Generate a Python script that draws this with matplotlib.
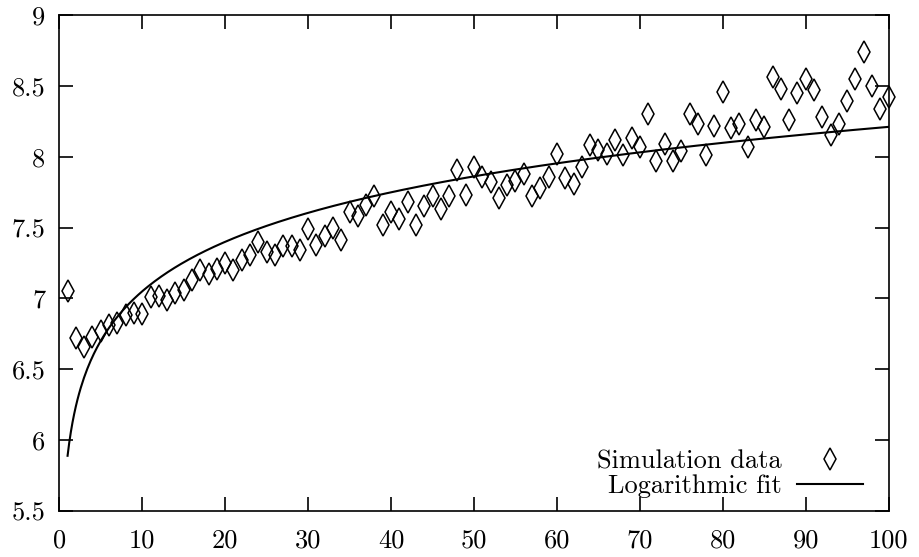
import numpy as np
import matplotlib
matplotlib.use("Agg")
import matplotlib.pyplot as plt

plt.rcParams['font.family'] = 'cmr10'
plt.rcParams['mathtext.fontset'] = 'cm'
plt.rcParams['axes.unicode_minus'] = False

# simulation data
x_data = list(range(1, 101))
y_data = [7.05, 6.72, 6.66, 6.73, 6.77, 6.81, 6.83, 6.88, 6.90, 6.89,
          7.01, 7.02, 6.99, 7.04, 7.06, 7.13, 7.20, 7.17, 7.21, 7.25,
          7.20, 7.27, 7.31, 7.40, 7.33, 7.31, 7.37, 7.37, 7.34, 7.49,
          7.38, 7.44, 7.50, 7.41, 7.61, 7.58, 7.66, 7.72, 7.52, 7.61,
          7.56, 7.68, 7.52, 7.65, 7.72, 7.63, 7.72, 7.91, 7.73, 7.93,
          7.86, 7.82, 7.71, 7.80, 7.83, 7.88, 7.72, 7.78, 7.86, 8.02,
          7.85, 7.81, 7.93, 8.08, 8.05, 8.02, 8.12, 8.01, 8.13, 8.07,
          8.30, 7.97, 8.09, 7.97, 8.04, 8.30, 8.23, 8.01, 8.22, 8.46,
          8.20, 8.23, 8.07, 8.26, 8.21, 8.56, 8.48, 8.26, 8.45, 8.55,
          8.47, 8.28, 8.15, 8.23, 8.39, 8.55, 8.74, 8.50, 8.34, 8.42]

# logarithmic fit  f(x) = a + b*ln(x)
fit_a = 5.89
fit_b = 0.504

x_ticks = [0, 10, 20, 30, 40, 50, 60, 70, 80, 90, 100]
y_ticks = [5.5, 6, 6.5, 7, 7.5, 8, 8.5, 9]
y_tick_labels = ['5.5', '6', '6.5', '7', '7.5', '8', '8.5', '9']

fig = plt.figure(figsize=(9.19, 5.57), dpi=100)
ax = fig.add_axes([0.0645, 0.0825, 0.9025, 0.8905])

ax.plot(x_data, y_data, linestyle='none', marker='d', markersize=11,
        markerfacecolor='none', markeredgecolor='black', markeredgewidth=1.1,
        label='Simulation data', clip_on=False)

xs = np.linspace(1, 100, 500)
ax.plot(xs, fit_a + fit_b * np.log(xs), color='black', linewidth=1.5,
        label='Logarithmic fit')

ax.set_xlim(0, 100)
ax.set_ylim(5.5, 9)
ax.set_xticks(x_ticks)
ax.set_yticks(y_ticks)
ax.set_yticklabels(y_tick_labels)
ax.tick_params(direction='in', length=10, width=1.2, top=True, right=True,
               labelsize=19)
ax.tick_params(axis='y', pad=10)
ax.tick_params(axis='x', pad=13)
for s in ax.spines.values():
    s.set_linewidth(1.2)

ax.legend(loc='lower right', bbox_to_anchor=(0.969, 0.026), frameon=False,
          markerfirst=False, fontsize=19, handlelength=2.5, handletextpad=0.57,
          labelspacing=0.05, borderaxespad=0, borderpad=0)

plt.savefig('out.png', dpi=100)
